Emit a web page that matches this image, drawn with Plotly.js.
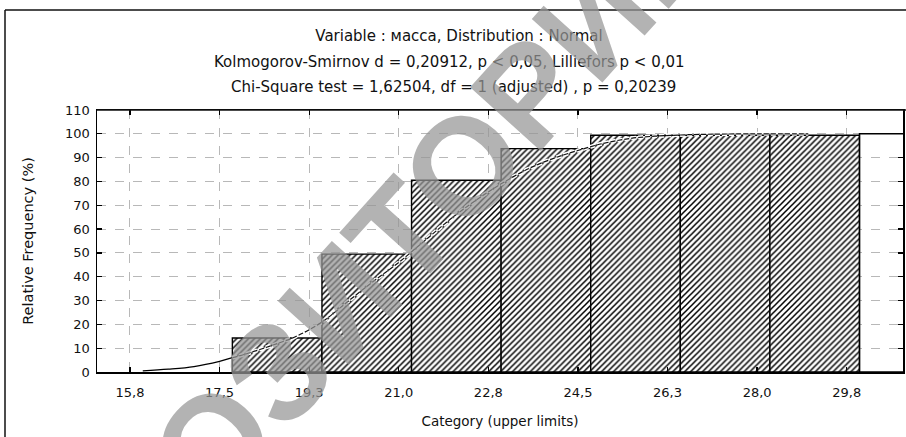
<!DOCTYPE html>
<html>
<head>
<meta charset="utf-8">
<script src="https://cdn.plot.ly/plotly-3.0.1.min.js"></script>
<style>html,body{margin:0;padding:0;background:#fff;}#chart{width:906px;height:437px;}</style>
</head>
<body>
<div id="chart"></div>
<script>
// ---- data ----
const tickValues = [15.75, 17.5, 19.25, 21.0, 22.75, 24.5, 26.25, 28.0, 29.75];
const tickLabels = ['15,8', '17,5', '19,3', '21,0', '22,8', '24,5', '26,3', '28,0', '29,8'];
const binLower = [17.75, 19.5, 21.25, 23.0, 24.75, 26.5, 28.25, 30.0];
const binUpper = [19.5, 21.25, 23.0, 24.75, 26.5, 28.25, 30.0, 31.75];
const cumPercent = [14.3, 49.5, 80.5, 93.8, 99.4, 99.4, 99.4, 100];
const curveX = [16.0, 16.5, 17.0, 17.5, 17.75, 18.0, 18.5, 19.0, 19.5, 20.0, 20.5, 21.0, 21.5, 22.0, 22.5, 23.0, 23.5, 24.0, 24.5, 25.0, 25.5, 26.0, 26.5, 27.0, 28.0, 29.0];
const curveY = [0.5, 1.2, 2.3, 4.5, 6.0, 7.5, 11, 15, 21, 29.5, 38, 46, 55, 64, 72, 79, 85, 89.5, 93, 96, 98, 99, 99.5, 99.8, 100, 100];
const titleLines = [
  'Variable : масса, Distribution : Normal',
  'Kolmogorov-Smirnov d = 0,20912, p &lt; 0,05, Lilliefors p &lt; 0,01',
  'Chi-Square test = 1,62504, df = 1 (adjusted) , p = 0,20239'
];
const watermark = 'РЕПОЗИТОРИЙ';

// ---- build ----
const barX = binLower.map((lo, i) => (lo + binUpper[i]) / 2);
const barW = binLower.map((lo, i) => binUpper[i] - lo);
const nH = cumPercent.length - 1; // last (open) bin is drawn without hatching

const splitAt = 5; // solid part at the left, dashed afterwards
const FONT = 'DejaVu Sans, Verdana, sans-serif';
const dashX = curveX.slice(splitAt - 1), dashY = curveY.slice(splitAt - 1);

const traces = [
  {
    type: 'bar', x: barX.slice(0, nH), y: cumPercent.slice(0, nH), width: barW.slice(0, nH),
    marker: {
      color: '#ffffff',
      line: {color: '#000', width: 1.4},
      pattern: {shape: '/', fgcolor: '#000', bgcolor: '#ffffff', size: 4.2, solidity: 0.36, fillmode: 'replace'}
    },
    hoverinfo: 'skip', showlegend: false
  },
  {
    type: 'bar', x: barX.slice(nH), y: cumPercent.slice(nH), width: barW.slice(nH),
    marker: {color: 'rgba(0,0,0,0)', line: {color: '#000', width: 1.4}},
    hoverinfo: 'skip', showlegend: false
  },
  {
    type: 'scatter', mode: 'lines', x: curveX.slice(0, splitAt), y: curveY.slice(0, splitAt),
    line: {color: '#000', width: 1.3, shape: 'spline'}, showlegend: false, hoverinfo: 'skip'
  },
  {
    type: 'scatter', mode: 'lines', x: dashX, y: dashY,
    line: {color: '#ffffff', width: 4, dash: '5px,2px', shape: 'spline'}, showlegend: false, hoverinfo: 'skip'
  },
  {
    type: 'scatter', mode: 'lines', x: dashX, y: dashY,
    line: {color: '#111', width: 1.2, dash: '5px,2px', shape: 'spline'}, showlegend: false, hoverinfo: 'skip'
  }
];

const axisCommon = {
  showline: true, linecolor: '#000', linewidth: 1.5, mirror: 'ticks',
  ticks: 'inside', ticklen: 5, tickwidth: 1.2, tickcolor: '#000',
  showgrid: true, gridcolor: '#b8b8b8', gridwidth: 1, griddash: 'dash',
  zeroline: false, tickfont: {family: FONT, size: 13, color: '#111'}
};

const layout = {
  width: 906, height: 437,
  margin: {l: 97, r: 3, t: 110, b: 65},
  paper_bgcolor: '#fff', plot_bgcolor: '#fff',
  bargap: 0, barmode: 'overlay',
  title: {
    text: titleLines[0], font: {family: FONT, size: 15, color: '#111'},
    x: (459 / 906), xref: 'container', xanchor: 'center',
    y: 1 - 36 / 437, yref: 'container', yanchor: 'middle'
  },
  xaxis: Object.assign({}, axisCommon, {
    range: [15.106, 30.85], tickmode: 'array', tickvals: tickValues, ticktext: tickLabels,
    ticklabelstandoff: 8,
    title: {text: 'Category (upper limits)', font: {family: FONT, size: 13.5, color: '#111'}, standoff: 17}
  }),
  yaxis: Object.assign({}, axisCommon, {
    range: [0, 110], tickmode: 'linear', tick0: 0, dtick: 10,
    ticklabelstandoff: 3,
    title: {text: 'Relative Frequency (%)', font: {family: FONT, size: 14.5, color: '#111'}, standoff: 28}
  }),
  annotations: [
    {text: titleLines[1], xref: 'paper', yref: 'paper', x: (449 - 97) / 806, y: (372 - 62) / 262,
     xanchor: 'center', yanchor: 'middle', showarrow: false, font: {family: FONT, size: 15, color: '#111'}},
    {text: titleLines[2], xref: 'paper', yref: 'paper', x: (453 - 97) / 806, y: (372 - 87) / 262,
     xanchor: 'center', yanchor: 'middle', showarrow: false, font: {family: FONT, size: 15, color: '#111'}},
    {text: '<b>' + watermark + '</b>', xref: 'paper', yref: 'paper', x: (340 - 97) / 806, y: (372 - 302) / 262,
     xanchor: 'center', yanchor: 'middle', showarrow: false, textangle: -48,
     font: {family: 'Liberation Sans, Arial, sans-serif', size: 138, color: 'rgba(149,149,149,0.72)'}}
  ],
  shapes: [
    {type: 'line', xref: 'paper', yref: 'paper', x0: (5 - 97) / 806, x1: (906 - 97) / 806,
     y0: (372 - 10) / 262, y1: (372 - 10) / 262, line: {color: '#111', width: 1.5}},
    {type: 'line', xref: 'paper', yref: 'paper', x0: (5 - 97) / 806, x1: (5 - 97) / 806,
     y0: (372 - 10) / 262, y1: (372 - 440) / 262, line: {color: '#111', width: 1.5}},
    {type: 'line', xref: 'paper', yref: 'paper', x0: 0, x1: (906 - 97) / 806,
     y0: 1, y1: 1, line: {color: '#111', width: 1.5}}
  ]
};

Plotly.newPlot('chart', traces, layout, {staticPlot: true, displayModeBar: false});
</script>
</body>
</html>
